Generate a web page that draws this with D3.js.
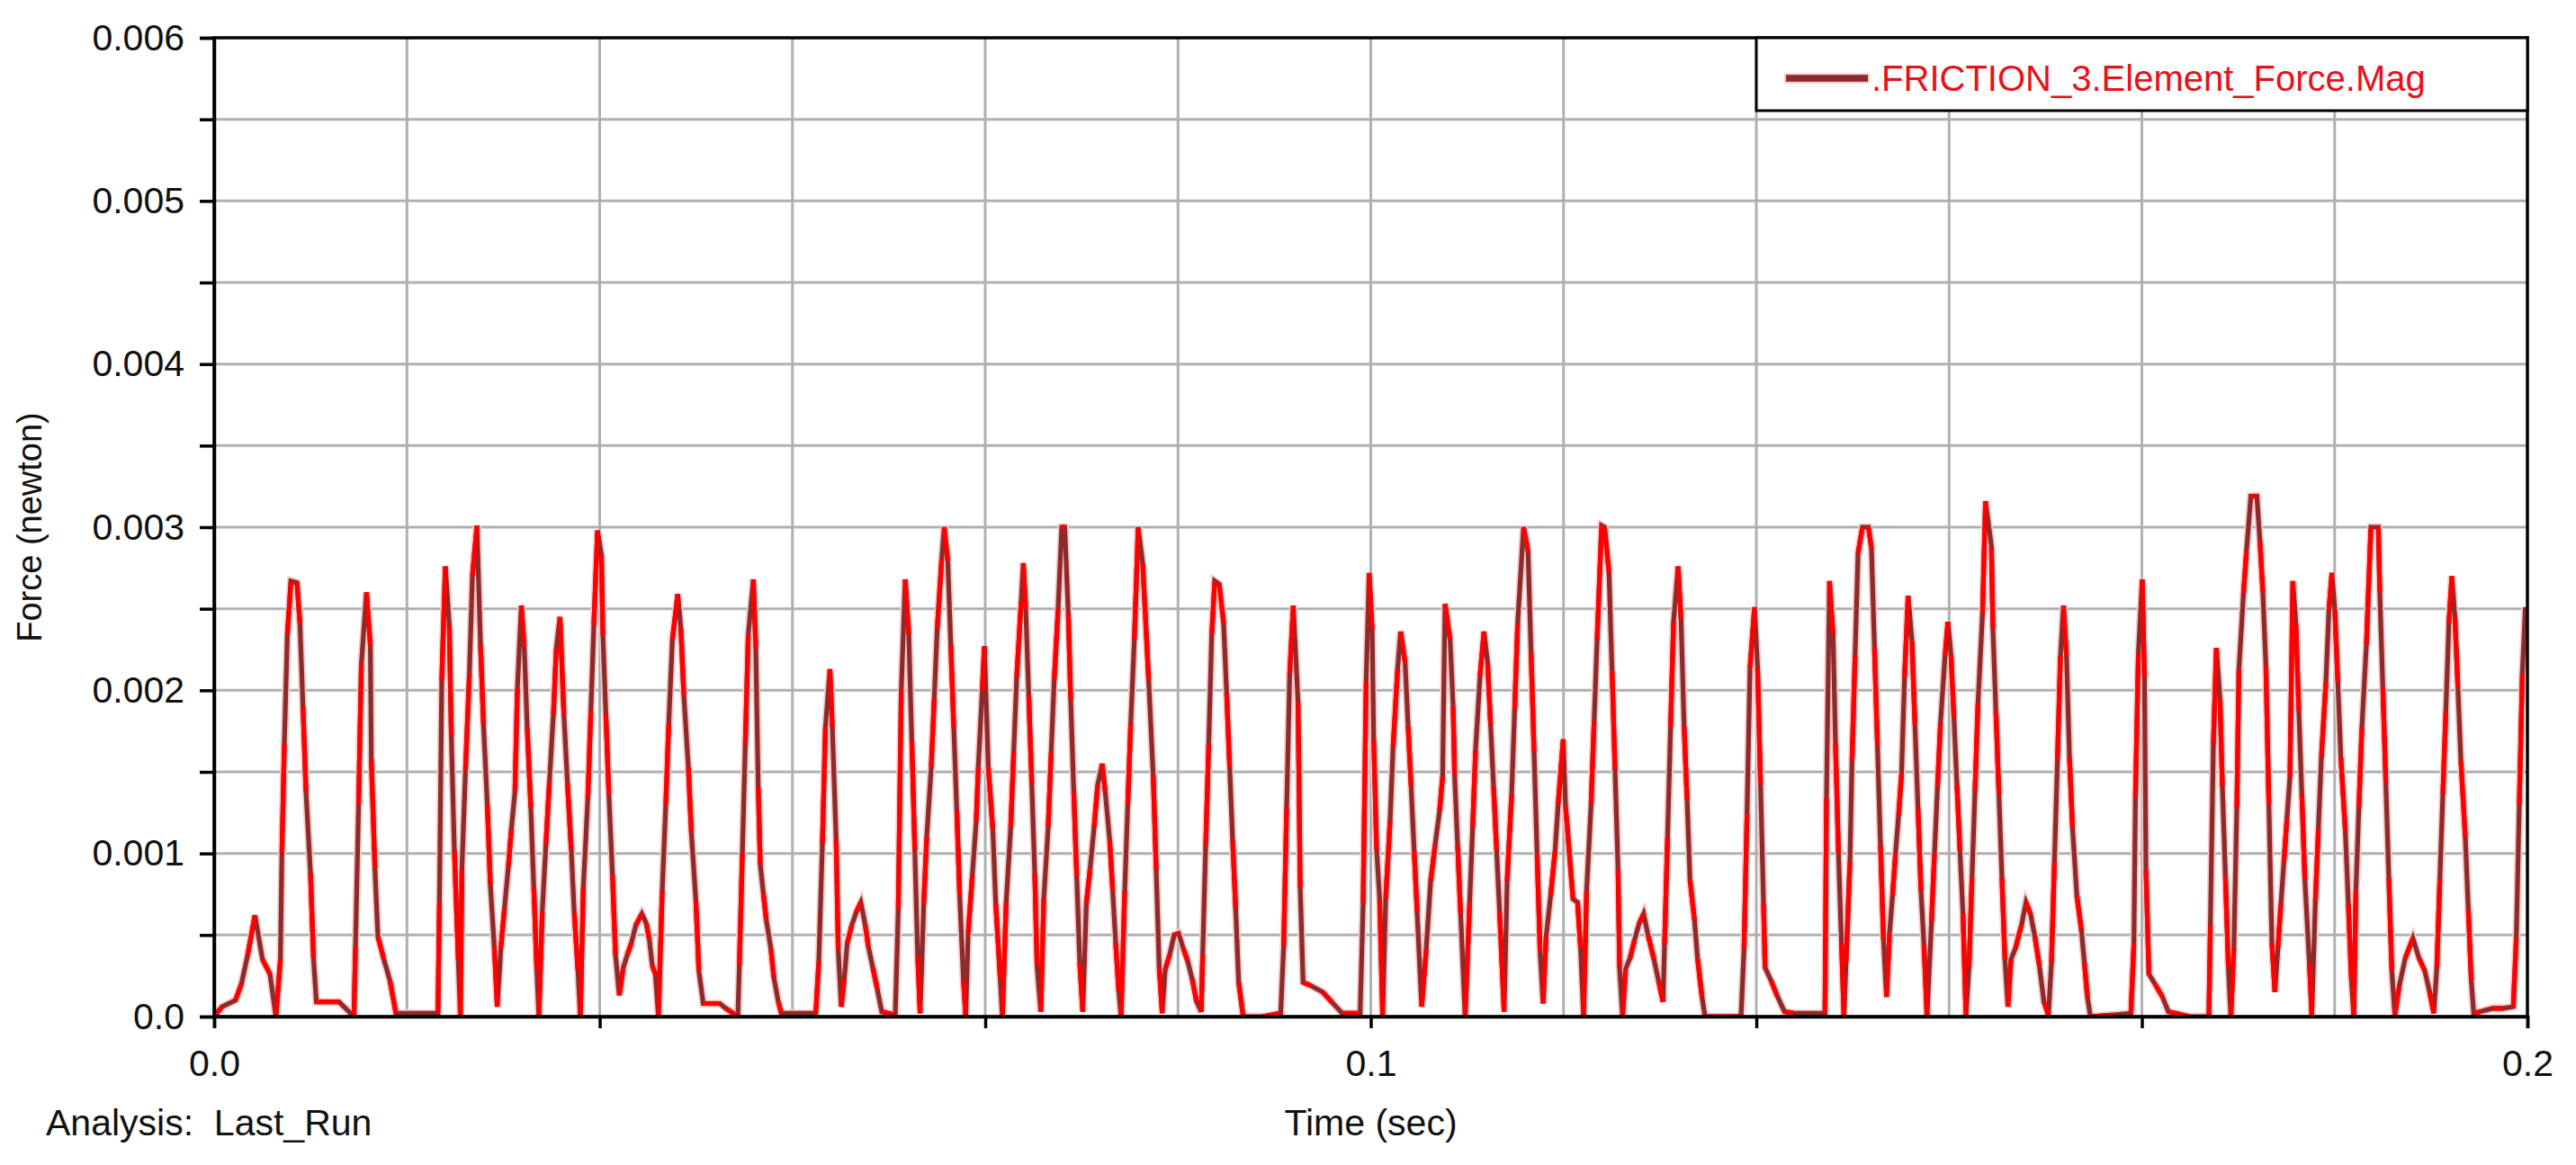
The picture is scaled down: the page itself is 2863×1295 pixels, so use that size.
<!DOCTYPE html>
<html>
<head>
<meta charset="utf-8">
<script src="https://cdn.jsdelivr.net/npm/d3@7"></script>
<style>
  html, body { margin: 0; padding: 0; background: #ffffff; }
  svg { display: block; }
  text { font-family: "Liberation Sans", Arial, sans-serif; }
</style>
</head>
<body>
<svg id="chart" width="2863" height="1295"></svg>
<script>
// ---- data (time in ms, force in mN) ----
const timeMs = [
0,0.68,1.84,2.36,2.88,3.53,4.18,4.83,5.34,5.73,5.86,6.07,6.33,6.64,7.16,7.42,7.68,7.94,8.33,8.59,8.84,10.79,
12.09,12.22,12.49,12.73,13.17,13.51,13.59,13.90,14.16,14.68,15.20,15.72,19.35,19.48,19.68,19.99,20.33,20.51,
20.77,21.11,21.29,21.42,21.73,22.07,22.33,22.72,23.03,23.29,23.62,23.88,24.22,24.48,24.79,25.10,25.44,25.70,
26.01,26.22,26.56,26.81,27.07,27.38,27.64,27.90,28.08,28.37,28.68,28.99,29.33,29.59,29.90,30.24,30.55,30.88,
31.14,31.46,31.66,31.92,32.31,32.57,32.83,33.15,
33.48,33.61,33.87,34.13,34.44,34.70,35.03,35.37,35.73,36.07,36.46,36.98,37.37,37.63,37.89,38.15,38.41,38.74,
39.05,39.31,39.62,40.09,40.35,40.61,41.00,41.26,41.65,41.91,42.29,43.72,44.24,45.28,45.41,45.67,45.92,46.18,
46.62,46.83,47.04,47.22,47.48,47.74,48.13,48.39,48.78,49.04,52.02,52.28,52.59,52.85,53.24,53.45,53.78,53.96,
54.22,54.48,54.74,55.13,55.52,55.91,56.30,56.56,56.95,57.33,57.72,58.89,59.15,59.41,59.75,60.06,60.32,60.58,
60.83,61.04,61.35,61.61,62.00,62.26,62.52,62.91,63.12,63.43,63.69,63.95,64.21,64.46,64.78,64.98,65.19,65.55,
65.89,66.07,66.41,
66.60,66.93,67.32,67.58,67.97,68.15,68.48,68.87,69.13,69.39,69.78,69.96,70.17,70.43,70.69,70.95,71.15,71.47,
71.73,72.11,72.37,72.63,72.97,73.28,73.54,73.85,74.06,74.32,74.58,74.84,75.10,75.41,75.74,76.08,76.39,76.78,
77.04,77.43,77.69,77.95,78.21,78.41,78.73,78.99,79.25,79.56,79.89,80.28,80.80,81.19,81.45,81.71,81.97,82.23,
82.62,83.00,83.39,83.78,84.17,84.56,84.95,85.34,85.47,85.73,85.99,86.25,86.51,86.90,87.28,87.54,87.80,88.06,
88.32,88.58,88.97,90.65,92.21,92.47,92.73,92.99,93.30,93.71,93.90,94.15,94.80,95.84,96.62,97.53,99.08,99.34,
99.60,99.86,
100.12,100.25,100.51,100.77,101.03,101.29,101.67,101.93,102.32,102.58,102.97,103.23,103.49,103.75,104.01,
104.40,104.79,105.18,105.56,105.95,106.21,106.42,106.86,107.12,107.25,107.51,107.77,108.16,108.55,108.81,
109.06,109.45,109.79,110.10,110.36,110.62,110.88,111.14,111.53,111.79,112.18,112.44,112.70,113.21,113.60,
113.86,114.12,114.38,114.64,114.90,115.16,115.55,115.94,116.20,116.64,116.84,117.49,117.88,118.14,118.40,
118.66,119.05,119.31,119.57,119.96,120.21,120.60,120.86,121.12,121.38,121.51,121.77,122.03,122.42,122.81,
123.20,123.59,123.97,124.49,124.88,125.27,125.40,125.66,125.92,126.18,126.57,126.83,127.09,127.35,127.60,
127.99,128.25,128.64,128.90,132.01,132.27,132.53,132.79,133.18,
133.44,133.70,133.96,134.09,134.61,135.12,135.77,136.55,139.27,139.40,139.66,139.97,140.18,140.44,140.70,
140.91,141.09,141.43,141.61,141.87,142.13,142.51,143.03,143.29,143.55,143.81,144.07,144.33,144.59,144.85,
145.11,145.37,145.63,145.89,146.15,146.46,146.79,147.05,147.31,147.57,147.83,148.09,148.48,148.74,149.00,
149.26,149.65,149.90,150.16,150.42,150.68,150.94,151.20,151.46,151.72,151.98,152.24,152.50,152.89,153.15,
153.66,153.79,154.05,154.31,154.57,154.83,155.09,155.35,155.74,156.26,156.65,157.04,157.42,157.81,158.20,
158.59,158.85,159.11,159.37,159.63,159.89,160.15,160.41,160.67,161.05,161.44,161.70,161.96,162.22,164.30,
165.72,165.98,166.11,166.37,166.70,
166.89,167.02,167.28,167.80,168.45,168.96,170.78,172.46,172.59,172.85,173.11,173.42,173.63,173.89,174.15,
174.36,174.62,174.88,175.06,175.45,175.71,176.09,176.61,176.87,177.13,177.39,177.65,177.91,178.17,178.43,
178.69,178.95,179.21,179.47,179.72,179.98,180.24,180.50,180.76,181.15,181.36,181.67,181.93,182.19,182.58,
182.84,183.10,183.35,183.61,183.87,184.26,184.52,184.78,184.99,185.17,185.43,185.69,186.08,186.47,187.11,
187.24,187.50,187.76,188.02,188.28,188.54,188.93,189.45,190.10,190.62,191.13,191.52,191.91,192.17,192.43,
192.69,192.95,193.21,193.47,193.73,193.99,194.25,194.63,194.89,195.15,195.36,195.93,196.97,197.88,198.78,
199.04,199.30,199.56,199.82
];
const forceMilliN = [
0,0.06,0.10,0.20,0.37,0.62,0.35,0.26,0,0.35,1.00,1.67,2.34,2.67,2.66,2.41,1.90,1.38,0.88,0.36,0.09,0.09,
0,0.43,1.30,2.16,2.60,2.27,1.58,0.91,0.49,0.35,0.22,0.02,0.02,0.70,2.06,2.76,2.40,1.72,
1.02,0.35,0,0.90,1.51,2.10,2.70,3.01,2.28,1.79,1.30,0.81,0.43,0.06,0.42,0.66,0.92,1.15,
1.38,2.01,2.52,2.27,1.77,1.28,0.79,0.28,0,0.64,1.05,1.44,1.85,2.26,2.45,1.85,1.43,1.02,
0.63,0.28,0,0.79,1.34,1.87,2.40,2.98,
2.83,2.34,1.85,1.36,0.87,0.38,0.13,0.30,0.38,0.45,0.56,0.63,0.57,0.47,0.31,0.26,0,0.77,
1.30,1.80,2.31,2.59,2.38,1.97,1.53,1.13,0.71,0.28,0.08,0.08,0.05,0,0.31,1.00,1.66,2.34,
2.68,2.26,1.41,0.93,0.76,0.59,0.42,0.24,0.09,0.02,0.02,0.34,1.06,1.77,2.13,1.77,1.08,0.41,
0.06,0.23,0.45,0.56,0.64,0.70,0.56,0.43,0.30,0.17,0.03,0.01,0.66,2.00,2.68,2.34,1.69,1.02,
0.37,0.02,0.69,1.10,1.53,1.95,2.38,2.81,3.00,2.79,2.28,1.77,1.26,0.74,0.23,0,0.51,0.86,
1.20,1.53,2.00,
2.27,1.53,1.15,0.69,0.23,0,0.70,1.16,1.62,2.08,2.55,2.78,2.50,1.97,1.43,0.88,0.31,0.03,
0.72,1.16,1.62,2.06,2.50,3.00,3.00,2.47,1.94,1.38,0.86,0.33,0.03,0.69,0.91,1.16,1.42,1.55,
1.38,1.08,0.77,0.45,0.16,0,0.77,1.30,1.80,2.31,3.00,2.78,2.06,1.48,0.90,0.30,0.02,0.29,
0.38,0.50,0.51,0.42,0.34,0.23,0.09,0.03,0.38,1.05,1.67,2.34,2.67,2.65,2.41,1.98,1.53,1.08,
0.66,0.21,0,0,0.02,0.43,1.28,2.10,2.52,1.93,0.79,0.21,0.19,0.15,0.09,0.02,0.02,0.69,
2.05,2.72,
2.37,1.70,1.02,0.72,0,0.72,1.20,1.65,2.13,2.36,2.17,1.78,1.41,1.02,0.64,
0.06,0.41,0.83,1.05,1.26,1.47,2.53,2.31,1.90,1.48,1.05,0.63,0,0.70,1.16,
1.63,2.09,2.36,2.17,1.79,1.41,1.02,0.64,0.03,0.83,1.36,1.88,2.41,3.00,2.85,
2.23,1.62,1.00,0.40,0.08,0.49,0.74,1.02,1.30,1.70,1.29,0.72,0.70,0.42,0,
0.77,1.30,1.81,2.31,3.01,3.00,2.72,2.12,1.51,0.90,0.30,0,0.29,0.36,0.47,
0.57,0.63,0.50,0.35,0.22,0.09,0.44,1.10,1.77,2.42,2.76,2.43,1.78,1.33,0.84,
0.59,0.36,0.12,0,0,0.41,1.24,2.14,2.51,
2.14,1.42,0.69,0.30,0.22,0.13,0.03,0.02,0.02,1.34,2.67,2.34,1.67,1.00,0.45,
0,0.33,0.95,1.57,2.21,2.84,3.00,3.00,2.87,2.26,1.66,1.05,0.47,0.12,0.51,
0.74,1.00,1.23,1.49,2.08,2.58,2.30,1.79,1.28,0.77,0.44,0,0.58,1.00,1.41,
1.80,2.21,2.42,2.22,1.83,1.42,1.02,0.63,0.01,0.30,0.85,1.38,1.92,2.47,3.16,
2.88,2.38,1.87,1.36,0.85,0.35,0.06,0.35,0.42,0.56,0.70,0.63,0.49,0.31,0.09,
0.01,0.33,0.95,1.57,2.21,2.52,2.21,1.59,1.16,0.74,0.53,0.33,0.12,0,0.01,
0.02,0.45,1.34,2.23,2.68,
2.08,0.90,0.26,0.20,0.12,0.03,0,0,0.56,1.67,2.26,1.95,1.41,0.86,0.30,
0,0.42,1.28,2.13,2.59,2.85,3.19,3.19,2.92,2.60,2.15,1.30,0.45,0.15,0.42,
0.69,0.95,1.21,1.47,2.67,2.41,1.87,1.36,0.84,0.33,0.01,0.71,1.15,1.59,2.05,
2.49,2.72,2.49,2.05,1.59,1.14,0.69,0.23,0,0.77,1.28,1.77,2.28,3.00,3.00,
2.60,2.02,1.43,0.85,0.28,0.01,0.19,0.36,0.48,0.36,0.28,0.16,0.02,0.30,0.84,
1.36,1.87,2.41,2.70,2.45,2.02,1.57,1.10,0.66,0.22,0.02,0.03,0.05,0.05,0.06,
0.48,1.30,2.10,2.51
];
const seriesName = ".FRICTION_3.Element_Force.Mag";
const yTickLabels = ["0.0", "0.001", "0.002", "0.003", "0.004", "0.005", "0.006"];
const xTickLabels = ["0.0", "0.1", "0.2"];
const xAxisTitle = "Time (sec)";
const yAxisTitle = "Force (newton)";
const footerText = "Analysis:  Last_Run";

// ---- layout ----
const W = 2863, H = 1295;
const m = { left: 238, right: 2809, top: 42, bottom: 1130 };
const RED = "#ff0000", BROWN = "#8b2b2b";
const FONT = 41;
const LW = 5.2;

const svg = d3.select("#chart");
svg.append("rect").attr("width", W).attr("height", H).attr("fill", "#fff");

const x = d3.scaleLinear().domain([0, 0.2]).range([m.left, m.right]);
const y = d3.scaleLinear().domain([0, 0.006]).range([m.bottom, m.top]);

const xGrid = d3.range(0, 13).map(i => i * 0.2 / 12);
const yGrid = d3.range(0, 13).map(i => i * 0.0005);

// grid
const g = svg.append("g");
g.selectAll(".vg").data(xGrid.slice(1, -1)).join("line")
  .attr("x1", d => x(d)).attr("x2", d => x(d))
  .attr("y1", m.top).attr("y2", m.bottom)
  .attr("stroke", "#b0b0b0").attr("stroke-width", 3);
g.selectAll(".hg").data(yGrid.slice(1, -1)).join("line")
  .attr("x1", m.left).attr("x2", m.right)
  .attr("y1", d => y(d)).attr("y2", d => y(d))
  .attr("stroke", "#b0b0b0").attr("stroke-width", 3);

// data
const pts = timeMs.map((t, i) => ({ t: t / 1000, f: forceMilliN[i] / 1000 }));
svg.append("clipPath").attr("id", "clip").append("rect")
  .attr("x", m.left).attr("y", m.top - 4).attr("width", m.right - m.left).attr("height", m.bottom - m.top + 4);
const line = d3.line().x(d => x(d.t)).y(d => y(d.f));
const dg = svg.append("g").attr("clip-path", "url(#clip)");
dg.append("path").attr("d", line(pts)).attr("fill", "none")
  .attr("stroke", "#ffc4c4").attr("stroke-width", LW + 3.5).attr("stroke-linejoin", "miter");
dg.append("path").attr("d", line(pts)).attr("fill", "none")
  .attr("stroke", BROWN).attr("stroke-width", LW).attr("stroke-linejoin", "miter");
const segs = [];
for (let i = 0; i < pts.length - 1; i += 2) segs.push([pts[i], pts[i + 1]]);
dg.selectAll(".seg").data(segs).join("path")
  .attr("d", d => line(d)).attr("fill", "none")
  .attr("stroke", RED).attr("stroke-width", LW).attr("stroke-linecap", "butt");

// frame
svg.append("rect").attr("x", m.left).attr("y", m.top)
  .attr("width", m.right - m.left).attr("height", m.bottom - m.top)
  .attr("fill", "none").attr("stroke", "#000").attr("stroke-width", 3.5);

// axes
const yAxis = d3.axisLeft(y).tickValues(yGrid).tickSize(16).tickPadding(17)
  .tickFormat((d, i) => i % 2 === 0 ? yTickLabels[i / 2] : "");
const ya = svg.append("g").attr("transform", `translate(${m.left},0)`).call(yAxis);
const xTicks = d3.range(0, 7).map(i => i * 0.2 / 6);
const xAxis = d3.axisBottom(x).tickValues(xTicks).tickSize(13).tickPadding(24)
  .tickFormat((d, i) => i % 3 === 0 ? xTickLabels[i / 3] : "");
const xa = svg.append("g").attr("transform", `translate(0,${m.bottom})`).call(xAxis);
[ya, xa].forEach(a => {
  a.select(".domain").attr("stroke", "#000").attr("stroke-width", 3.5);
  a.selectAll(".tick line").attr("stroke", "#000").attr("stroke-width", 3.5);
  a.selectAll(".tick text").attr("fill", "#111").style("font-size", FONT + "px")
    .style("font-family", '"Liberation Sans", Arial, sans-serif');
});

// titles
svg.append("text").attr("x", x(0.1)).attr("y", 1262).attr("text-anchor", "middle")
  .attr("fill", "#111").style("font-size", FONT + "px").text(xAxisTitle);
svg.append("text").attr("x", 51).attr("y", 1262).attr("text-anchor", "start")
  .attr("fill", "#111").style("font-size", FONT + "px").style("white-space", "pre")
  .attr("xml:space", "preserve").text(footerText);
svg.append("text").attr("transform", `translate(46,${(m.top + m.bottom) / 2}) rotate(-90)`)
  .attr("text-anchor", "middle").attr("fill", "#111").style("font-size", "38px").text(yAxisTitle);

// legend
const lg = svg.append("g");
lg.append("rect").attr("x", 1952).attr("y", m.top).attr("width", m.right - 1952).attr("height", 81)
  .attr("fill", "#fff").attr("stroke", "#000").attr("stroke-width", 3);
lg.append("line").attr("x1", 1983).attr("x2", 2078).attr("y1", 87).attr("y2", 87)
  .attr("stroke", "#ffc4c4").attr("stroke-width", 11);
lg.append("line").attr("x1", 1985).attr("x2", 2076).attr("y1", 87).attr("y2", 87)
  .attr("stroke", BROWN).attr("stroke-width", 7.5);
lg.append("text").attr("x", 2080).attr("y", 101).attr("fill", "#e8101a")
  .style("font-size", "40px").text(seriesName);
</script>
</body>
</html>
